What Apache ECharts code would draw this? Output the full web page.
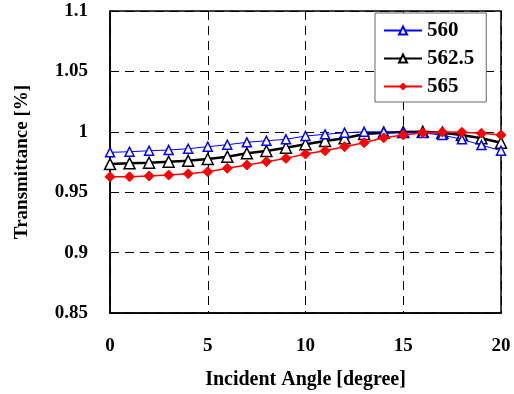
<!DOCTYPE html>
<html>
<head>
<meta charset="utf-8">
<script src="https://cdn.jsdelivr.net/npm/echarts@6/dist/echarts.min.js"></script>
<style>
  html, body { margin: 0; padding: 0; background: #fff; }
  #chart { width: 514px; height: 394px; }
</style>
</head>
<body>
<div id="chart"></div>
<script>
// incident angle, degree
var angles = [0, 1, 2, 3, 4, 5, 6, 7, 8, 9, 10, 11, 12, 13, 14, 15, 16, 17, 18, 19, 20]
var t560 = [0.983, 0.9835, 0.9843, 0.9849, 0.986, 0.9877, 0.9893, 0.9913, 0.9926, 0.9938, 0.9965,
  0.9979, 0.9992, 1.0, 1.0, 0.9995, 0.999, 0.9973, 0.9938, 0.989, 0.9843]
var t5625 = [0.9733, 0.9739, 0.9744, 0.9752, 0.976, 0.9775, 0.9794, 0.9822, 0.9841, 0.9868, 0.9897,
  0.9924, 0.9946, 0.9982, 0.9993, 0.9998, 1.0, 0.9993, 0.9973, 0.9946, 0.991]
var t565 = [0.9628, 0.9628, 0.9634, 0.9642, 0.9653, 0.967, 0.9698, 0.9725, 0.9753, 0.978, 0.9816,
  0.9843, 0.9877, 0.991, 0.995, 0.9974, 0.9993, 0.9998, 0.9996, 0.9988, 0.9974]

var serif = '"Liberation Serif", "DejaVu Serif", serif'

function pairs(ys) {
  return ys.map(function (y, i) { return [angles[i], y] })
}

var chart = echarts.init(document.getElementById('chart'))
chart.setOption({
  animation: false,
  grid: {
    left: 110, top: 11, right: 13, bottom: 81,
    show: true, borderColor: '#000', borderWidth: 1.5,
    containLabel: false, outerBoundsMode: 'none'
  },
  legend: {
    left: 375, top: 13,
    orient: 'vertical',
    backgroundColor: '#fff',
    borderColor: '#666', borderWidth: 1,
    padding: [7, 12, 5, 8],
    itemWidth: 38, itemHeight: 10, itemGap: 7,
    textStyle: { fontFamily: serif, fontWeight: 'bold', fontSize: 21, color: '#000' },
    data: ['560', '562.5', '565']
  },
  xAxis: {
    type: 'value', min: 0, max: 20, interval: 5,
    name: 'Incident Angle [degree]', nameLocation: 'middle', nameGap: 57,
    nameTextStyle: { fontFamily: serif, fontWeight: 'bold', fontSize: 20, color: '#000' },
    axisLine: { show: true, lineStyle: { color: '#000', width: 1.5 } },
    axisTick: { show: false },
    axisLabel: { fontFamily: serif, fontWeight: 'bold', fontSize: 19, color: '#000', margin: 24 },
    splitLine: { show: true, lineStyle: { color: '#000', type: [9, 6], width: 1 } }
  },
  yAxis: {
    type: 'value', min: 0.85, max: 1.1, interval: 0.05,
    name: 'Transmittance [%]', nameLocation: 'middle', nameGap: 78,
    nameTextStyle: { fontFamily: serif, fontWeight: 'bold', fontSize: 19, color: '#000' },
    axisLine: { show: true, lineStyle: { color: '#000', width: 1.5 } },
    axisTick: { show: true, inside: true, length: 6, lineStyle: { color: '#000' } },
    axisLabel: {
      fontFamily: serif, fontWeight: 'bold', fontSize: 19, color: '#000', margin: 22,
      formatter: function (v) { return String(parseFloat(v.toFixed(2))) }
    },
    splitLine: { show: true, lineStyle: { color: '#000', type: [9, 6], width: 1 } }
  },
  series: [
    {
      name: '560', type: 'line', data: pairs(t560),
      symbol: 'triangle', symbolSize: 9,
      lineStyle: { color: '#0000ff', width: 1 },
      itemStyle: { color: '#fff', borderColor: '#0000ff', borderWidth: 1.5 },
      z: 3
    },
    {
      name: '562.5', type: 'line', data: pairs(t5625),
      symbol: 'triangle', symbolSize: 11,
      lineStyle: { color: '#000', width: 2.5 },
      itemStyle: { color: '#fff', borderColor: '#000', borderWidth: 1.5 },
      z: 2
    },
    {
      name: '565', type: 'line', data: pairs(t565),
      symbol: 'diamond', symbolSize: 10,
      lineStyle: { color: '#ff0000', width: 1.5 },
      itemStyle: { color: '#ff0000', borderColor: '#ff0000' },
      z: 4
    }
  ]
})
</script>
</body>
</html>
